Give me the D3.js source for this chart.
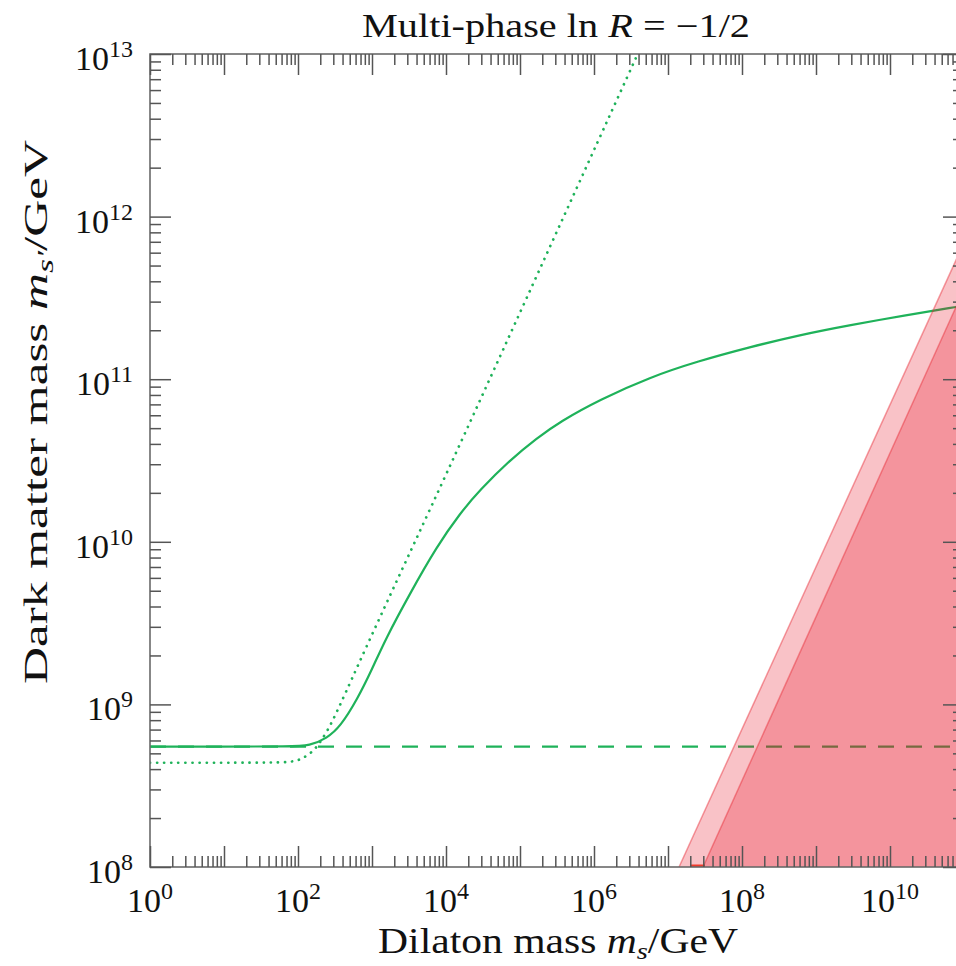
<!DOCTYPE html>
<html>
<head>
<meta charset="utf-8">
<script src="https://cdn.jsdelivr.net/npm/d3@7"></script>
<style>
  body { margin: 0; background: #fff; }
  svg { display: block; }
  text { font-family: "Liberation Serif", "Times New Roman", serif; fill: #111; }
</style>
</head>
<body>
<svg id="chart"></svg>
<script>
// values are log10(mass / GeV)
const solidLogX = [0, 1.0, 1.9, 2.16, 2.39, 2.57, 2.8, 3.0, 3.176, 3.514, 3.874, 4.189, 4.459, 4.865, 5.226, 5.541, 6.08, 6.76, 7.4, 8.11, 8.78, 9.46, 10.2, 10.89, 11.0];
const solidLogY = [8.74, 8.74, 8.741, 8.746, 8.792, 8.862, 9.03, 9.215, 9.396, 9.683, 9.970, 10.175, 10.319, 10.503, 10.637, 10.739, 10.875, 11.013, 11.11, 11.198, 11.272, 11.333, 11.392, 11.444, 11.452];

const dottedLogX = [0, 1.0, 1.7, 1.93, 2.05, 2.2, 2.32, 2.46, 2.7, 3.15, 4.0, 5.0, 6.554, 6.6];
const dottedLogY = [8.641, 8.641, 8.642, 8.646, 8.664, 8.707, 8.78, 8.886, 9.13, 9.58, 10.41, 11.41, 12.963, 13.01];

const dashedLogY = 8.74;

// excluded regions (red), edges of the two overlapping layers
const lightEdgeLogX = [7.149, 11.0];
const lightEdgeLogY = [8.0, 11.84];
const darkEdgeLogX = [7.473, 11.0];
const darkEdgeLogY = [8.0, 11.553];
const redSegmentLogX = [7.30, 7.50];

const xMajorExp = d3.range(0, 12);
const xLabelExp = [0, 2, 4, 6, 8, 10];
const yMajorExp = [8, 9, 10, 11, 12, 13];

const titleText = ["Multi-phase ln ", "R", " = \u22121/2"];

const W = 956, H = 966;
const margin = { top: 54, left: 150, right: 964, bottom: 867 };

const svg = d3.select("#chart").attr("width", W).attr("height", H);

const x = d3.scaleLog().domain([1, 1e11]).range([margin.left, margin.right]);
const y = d3.scaleLog().domain([1e8, 1e13]).range([margin.bottom, margin.top]);
const p10 = v => Math.pow(10, v);

const minorOf = exps => {
  const out = [];
  exps.slice(0, -1).forEach(e => {
    for (let m = 2; m <= 9; m++) out.push(m * p10(e));
  });
  return out;
};
const xMinor = minorOf(xMajorExp);
const yMinor = minorOf(yMajorExp);

svg.append("clipPath").attr("id", "plotclip")
  .append("rect")
  .attr("x", margin.left).attr("y", margin.top)
  .attr("width", margin.right - margin.left)
  .attr("height", margin.bottom - margin.top);

const plot = svg.append("g").attr("clip-path", "url(#plotclip)");

const green = "#1fb25a";

// dashed reference line
plot.append("line")
  .attr("x1", x(1)).attr("x2", x(1e11))
  .attr("y1", y(p10(dashedLogY))).attr("y2", y(p10(dashedLogY)))
  .attr("stroke", green).attr("stroke-width", 2.2)
  .attr("stroke-dasharray", "16,12");

const line = d3.line()
  .x(d => x(p10(d[0])))
  .y(d => y(p10(d[1])))
  .curve(d3.curveBasis);

plot.append("path")
  .datum(dottedLogX.map((v, i) => [v, dottedLogY[i]]))
  .attr("d", line)
  .attr("fill", "none").attr("stroke", green).attr("stroke-width", 2.7)
  .attr("stroke-linecap", "round")
  .attr("stroke-dasharray", "0.1,7");

plot.append("path")
  .datum(solidLogX.map((v, i) => [v, solidLogY[i]]))
  .attr("d", line)
  .attr("fill", "none").attr("stroke", green).attr("stroke-width", 2.2);

// red excluded regions, drawn translucent on top
const region = (ex, ey) => [
  [ex[0], ey[0]], [ex[1], ey[1]], [ex[1], ey[0]]
];
const area = d3.line().x(d => x(p10(d[0]))).y(d => y(p10(d[1])));
[[lightEdgeLogX, lightEdgeLogY], [darkEdgeLogX, darkEdgeLogY]].forEach(([ex, ey]) => {
  plot.append("path")
    .attr("d", area(region(ex, ey)) + "Z")
    .attr("fill", "rgb(231,10,32)").attr("fill-opacity", 0.25);
  plot.append("line")
    .attr("x1", x(p10(ex[0]))).attr("y1", y(p10(ey[0])))
    .attr("x2", x(p10(ex[1]))).attr("y2", y(p10(ey[1])))
    .attr("stroke", "rgb(231,40,50)").attr("stroke-opacity", 0.45).attr("stroke-width", 1.5);
});

// frame
svg.append("rect")
  .attr("x", margin.left).attr("y", margin.top)
  .attr("width", margin.right - margin.left)
  .attr("height", margin.bottom - margin.top)
  .attr("fill", "none").attr("stroke", "#6a6a6a").attr("stroke-width", 1.6);

plot.append("line")
  .attr("x1", x(p10(redSegmentLogX[0]))).attr("x2", x(p10(redSegmentLogX[1])))
  .attr("y1", y(1e8) - 1).attr("y2", y(1e8) - 1)
  .attr("stroke", "#f03a2a").attr("stroke-width", 3);

// ticks on all four sides, pointing inward
const tickColor = "#555";
const addTicks = (axisGen, tx, ty, values, size) => {
  const g = svg.append("g").attr("transform", `translate(${tx},${ty})`)
    .call(axisGen.tickValues(values).tickSizeInner(size).tickSizeOuter(0).tickFormat(""));
  g.select(".domain").remove();
  g.selectAll(".tick line").attr("stroke", tickColor).attr("stroke-width", 1.5);
};
const xMajorVals = xMajorExp.map(p10);
const yMajorVals = yMajorExp.map(p10);
addTicks(d3.axisBottom(x), 0, margin.bottom, xMajorVals, -21);
addTicks(d3.axisBottom(x), 0, margin.bottom, xMinor, -11);
addTicks(d3.axisTop(x), 0, margin.top, xMajorVals, -21);
addTicks(d3.axisTop(x), 0, margin.top, xMinor, -11);
addTicks(d3.axisLeft(y), margin.left, 0, yMajorVals, -21);
addTicks(d3.axisLeft(y), margin.left, 0, yMinor, -11);
addTicks(d3.axisRight(y), margin.right, 0, yMajorVals, -21);
addTicks(d3.axisRight(y), margin.right, 0, yMinor, -11);

// tick labels 10^k
const powLabel = (sel, k) => {
  sel.append("tspan").text("10");
  sel.append("tspan").attr("dy", -13).attr("font-size", 24).text(k);
};
xLabelExp.forEach(k => {
  const t = svg.append("text")
    .attr("x", x(p10(k))).attr("y", margin.bottom + 45)
    .attr("text-anchor", "middle").attr("font-size", 34);
  powLabel(t, k);
});
yMajorExp.forEach(k => {
  const t = svg.append("text")
    .attr("x", 133).attr("y", y(p10(k)) + 16)
    .attr("text-anchor", "end").attr("font-size", 34);
  powLabel(t, k);
});

// stretch a text horizontally to the width it has in the figure
const fitWidth = (g, target) => {
  const w = g.node().getBBox().width;
  g.select("text").attr("transform", `scale(${target / w},1)`);
};

const title = svg.append("g").attr("transform", "translate(556,37)");
const tt = title.append("text").attr("text-anchor", "middle").attr("font-size", 33);
tt.append("tspan").text(titleText[0]);
tt.append("tspan").attr("font-style", "italic").text(titleText[1]);
tt.append("tspan").text(titleText[2]);
fitWidth(title, 388);

const xl = svg.append("g").attr("transform", "translate(558,953)");
const xt = xl.append("text").attr("text-anchor", "middle").attr("font-size", 35);
xt.append("tspan").text("Dilaton mass ");
xt.append("tspan").attr("font-style", "italic").text("m");
xt.append("tspan").attr("font-style", "italic").attr("font-size", 24).attr("dy", 6).text("s");
xt.append("tspan").attr("dy", -6).text("/GeV");
fitWidth(xl, 360);

const yl = svg.append("g").attr("transform", "translate(47,412) rotate(-90)");
const yt = yl.append("text").attr("text-anchor", "middle").attr("font-size", 34);
yt.append("tspan").text("Dark matter mass ");
yt.append("tspan").attr("font-style", "italic").text("m");
yt.append("tspan").attr("font-style", "italic").attr("font-size", 24).attr("dy", 6).text("s\u2032");
yt.append("tspan").attr("dy", -6).text("/GeV");
fitWidth(yl, 545);
</script>
</body>
</html>
